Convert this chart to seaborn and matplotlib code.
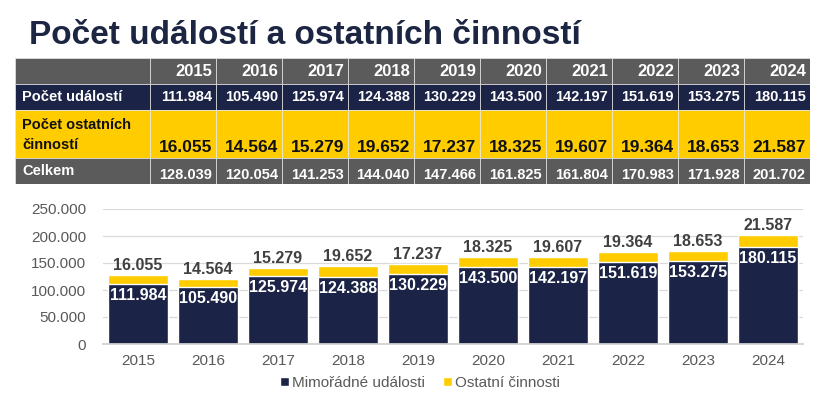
import matplotlib.pyplot as plt
import seaborn as sns
from matplotlib.patches import Rectangle, Patch
from matplotlib.ticker import FuncFormatter

years = ['2015', '2016', '2017', '2018', '2019', '2020', '2021', '2022', '2023', '2024']
udalosti = [111984, 105490, 125974, 124388, 130229, 143500, 142197, 151619, 153275, 180115]
ostatni = [16055, 14564, 15279, 19652, 17237, 18325, 19607, 19364, 18653, 21587]
celkem = [128039, 120054, 141253, 144040, 147466, 161825, 161804, 170983, 171928, 201702]

title = 'Počet událostí a ostatních činností'
row_labels = ['Počet událostí', 'Počet ostatních\nčinností', 'Celkem']
legend_labels = ['Mimořádné události', 'Ostatní činnosti']

NAVY = '#1b2346'
YELLOW = '#ffcc00'
GRAY = '#5b5b5b'
TXT = '#595959'


def fmt(v):
    return f'{int(v):,}'.replace(',', '.')


sns.set_theme(style='white')
plt.rcParams['font.family'] = ['Liberation Sans', 'DejaVu Sans']

fig = plt.figure(figsize=(8.28, 3.95), dpi=100)
fig.text(29 / 828, 1 - 35 / 395, title, fontsize=24, fontweight='bold',
         color='#1c2541', va='center', ha='left')

# table drawn as cells, in pixel-like units
tax = fig.add_axes([15 / 828, 1 - 184 / 395, 795 / 828, 126 / 395])
tax.set_xlim(0, 795)
tax.set_ylim(126, 0)
tax.axis('off')

label_w, col_w = 135, 66
row_h = [26, 26, 48, 26]
row_bg = [GRAY, NAVY, YELLOW, GRAY]
row_fg = ['white', 'white', '#111111', 'white']
row_fs = [12, 10.5, 12.5, 10.5]
rows = [years, [fmt(v) for v in udalosti], [fmt(v) for v in ostatni], [fmt(v) for v in celkem]]

y0 = 0
for r, h in enumerate(row_h):
    tax.add_patch(Rectangle((0, y0), label_w, h, facecolor=row_bg[r],
                            edgecolor='#e8e8e8', linewidth=0.5))
    if r > 0:
        lab = row_labels[r - 1]
        tax.text(7, y0 + (h / 2 if r != 2 else 25), lab, color=row_fg[r], fontsize=10.5,
                 fontweight='bold', va='center', ha='left', linespacing=1.5)
    for c, txt in enumerate(rows[r]):
        x = label_w + c * col_w
        tax.add_patch(Rectangle((x, y0), col_w, h, facecolor=row_bg[r],
                                edgecolor='#e8e8e8', linewidth=0.5))
        ty = y0 + h / 2 if r < 2 else y0 + h - 11
        if r == 3:
            ty = y0 + h / 2 + 4
        tax.text(x + col_w - 4, ty, txt, color=row_fg[r], fontsize=row_fs[r],
                 fontweight='bold', va='center', ha='right')
    y0 += h

# stacked bars: totals in yellow, events in navy on top
ax = fig.add_axes([103 / 828, 1 - 344 / 395, 700 / 828, 135 / 395])
sns.barplot(x=years, y=celkem, color=YELLOW, saturation=1, width=0.857, ax=ax)
sns.barplot(x=years, y=udalosti, color=NAVY, saturation=1, width=0.857, ax=ax)

for i in range(len(years)):
    ax.annotate(fmt(ostatni[i]), (i, celkem[i]), xytext=(0, 1.5), textcoords='offset points',
                ha='center', va='bottom', fontsize=11.5, fontweight='bold', color='#404040')
    ax.annotate(fmt(udalosti[i]), (i, udalosti[i]), xytext=(0, -3), textcoords='offset points',
                ha='center', va='top', fontsize=11.5, fontweight='bold', color='white')

ax.set_ylim(0, 250000)
ax.set_xlim(-0.5, len(years) - 0.5)
ax.set_yticks(range(0, 250001, 50000))
ax.yaxis.set_major_formatter(FuncFormatter(lambda v, p: fmt(v)))
ax.grid(axis='y', color='#d9d9d9', linewidth=0.9)
ax.set_axisbelow(True)
for s in ['top', 'right', 'left']:
    ax.spines[s].set_visible(False)
ax.spines['bottom'].set_color('#d0d0d0')
ax.tick_params(axis='y', labelsize=11, labelcolor=TXT, length=0, pad=12)
ax.tick_params(axis='x', labelsize=11, labelcolor=TXT, length=0, pad=7)
ax.set_xlabel('')
ax.set_ylabel('')

handles = [Patch(facecolor=NAVY), Patch(facecolor=YELLOW)]
fig.legend(handles, legend_labels, loc='center', bbox_to_anchor=(420 / 828, 1 - 383 / 395),
           ncol=2, frameon=False, fontsize=11, labelcolor=TXT, handlelength=0.6,
           handleheight=0.6, handletextpad=0.2, columnspacing=1.2)

fig.savefig('out.png', dpi=100)
